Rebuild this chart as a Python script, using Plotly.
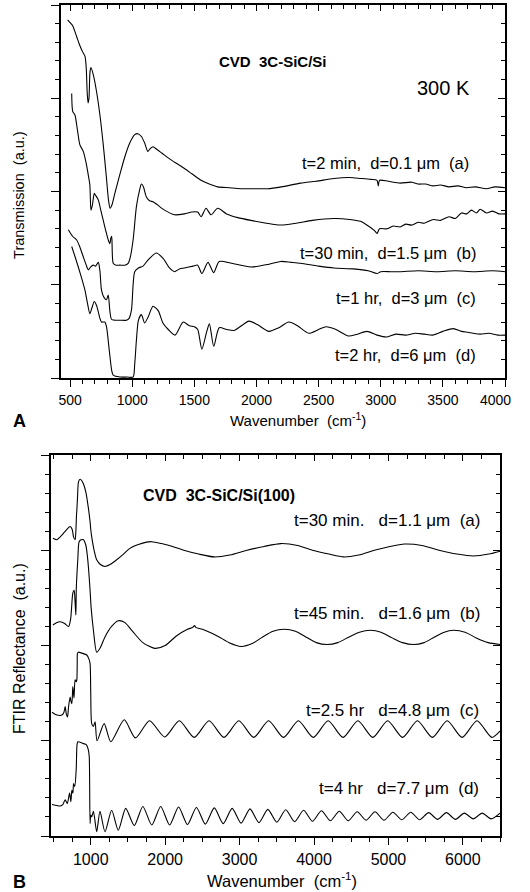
import plotly.graph_objects as go

W, H = 514, 892          # drawing width the page ends up using; reference pixels map 1:1
FONT = "Liberation Sans, Arial, sans-serif"
NB = "\u00a0"

# ---------------- Panel A : transmission (wavenumber, a.u.) ----------------
A_a = [(480,3.84),(500,3.81),(520,3.78),(553,3.66),(580,3.56),(600,3.50),(620,3.45),(630,3.32),(638,3.05),(645,2.95),
       (652,3.00),(660,3.28),(668,3.33),(687,3.25),(713,3.07),(740,2.82),(767,2.50),(793,2.14),(808,1.92),(822,1.82),
       (838,1.86),(860,1.98),(900,2.18),(940,2.37),(980,2.52),(1020,2.61),(1045,2.62),(1074,2.59),(1100,2.52),(1125,2.43),
       (1145,2.46),(1167,2.48),(1200,2.45),(1240,2.41),(1300,2.35),(1394,2.27),(1480,2.19),(1554,2.12),(1620,2.08),(1688,2.05),
       (1780,2.04),(1875,2.03),(1980,2.03),(2089,2.03),(2200,2.05),(2355,2.09),(2480,2.11),(2622,2.14),(2750,2.15),(2840,2.14),
       (2920,2.13),(2970,2.12),(2980,2.06),(2990,2.12),(3060,2.11),(3156,2.09),(3250,2.10),(3300,2.08),(3360,2.08),(3423,2.06),
       (3480,2.07),(3550,2.05),(3620,2.06),(3690,2.04),(3760,2.05),(3850,2.03),(3920,2.05),(4000,2.04)]
A_b = [(513,3.05),(521,2.86),(539,2.82),(560,2.65),(579,2.50),(606,2.43),(630,2.30),(646,2.18),(659,2.07),(668,1.80),
       (680,1.86),(695,1.98),(705,1.96),(727,1.91),(747,1.80),(767,1.69),(787,1.58),(807,1.48),(820,1.44),(828,1.50),
       (835,1.52),(847,1.23),(870,1.21),(900,1.21),(940,1.21),(967,1.23),(985,1.30),(1007,1.48),(1034,1.84),(1060,2.02),
       (1074,2.08),(1090,2.05),(1114,1.94),(1140,1.90),(1167,1.89),(1200,1.86),(1260,1.80),(1340,1.75),(1420,1.76),(1480,1.78),
       (1527,1.78),(1554,1.73),(1594,1.82),(1634,1.75),(1688,1.82),(1760,1.76),(1850,1.72),(1955,1.69),(2080,1.66),(2195,1.64),
       (2320,1.66),(2450,1.69),(2622,1.71),(2750,1.70),(2836,1.68),(2900,1.63),(2950,1.58),(2970,1.55),(2990,1.60),(3050,1.60),
       (3100,1.63),(3156,1.62),(3200,1.65),(3250,1.64),(3300,1.67),(3350,1.66),(3423,1.70),(3480,1.69),(3550,1.73),(3600,1.71),
       (3650,1.77),(3690,1.76),(3730,1.80),(3770,1.77),(3800,1.81),(3850,1.77),(3900,1.79),(3950,1.76),(4000,1.76)]
A_c = [(486,1.59),(520,1.52),(553,1.48),(580,1.40),(606,1.30),(630,1.21),(646,1.16),(665,1.19),(686,1.21),(705,1.20),
       (727,1.24),(740,1.15),(753,0.94),(775,0.86),(793,0.84),(807,0.89),(820,0.72),(833,0.63),(860,0.62),(900,0.62),
       (953,0.62),(975,0.64),(994,0.73),(1020,1.14),(1050,1.18),(1087,1.20),(1130,1.27),(1194,1.34),(1250,1.28),(1300,1.18),
       (1340,1.14),(1380,1.17),(1420,1.18),(1490,1.20),(1527,1.21),(1560,1.12),(1610,1.24),(1655,1.13),(1700,1.25),(1800,1.23),
       (1955,1.19),(2100,1.22),(2195,1.25),(2280,1.24),(2355,1.23),(2500,1.20),(2622,1.18),(2780,1.17),(2900,1.15),(2970,1.12),
       (3000,1.14),(3080,1.14),(3156,1.14),(3300,1.15),(3450,1.14),(3600,1.15),(3750,1.14),(3900,1.15),(4000,1.14)]
A_d = [(513,1.41),(540,1.30),(566,1.19),(595,1.06),(620,0.94),(640,0.80),(659,0.69),(675,0.75),(695,0.82),(712,0.78),
       (727,0.71),(740,0.64),(753,0.60),(780,0.60),(793,0.55),(815,0.30),(835,0.08),(847,0.03),(900,0.01),(960,0.01),
       (1007,0.01),(1020,0.15),(1034,0.41),(1050,0.62),(1074,0.68),(1100,0.59),(1130,0.66),(1167,0.77),(1210,0.72),(1247,0.59),
       (1290,0.52),(1345,0.46),(1410,0.60),(1460,0.56),(1500,0.55),(1527,0.52),(1560,0.31),(1600,0.50),(1621,0.58),(1656,0.34),
       (1700,0.54),(1760,0.52),(1821,0.51),(1940,0.61),(2010,0.57),(2100,0.50),(2180,0.54),(2260,0.60),(2330,0.56),(2420,0.48),
       (2500,0.52),(2560,0.55),(2640,0.52),(2740,0.45),(2810,0.47),(2889,0.50),(2970,0.46),(3049,0.44),(3120,0.47),(3200,0.46),
       (3280,0.48),(3350,0.47),(3420,0.46),(3500,0.50),(3583,0.53),(3650,0.50),(3700,0.49),(3743,0.48),(3800,0.47),(3870,0.48),
       (3940,0.46),(4000,0.46)]

# ---------------- Panel B : FTIR reflectance (wavenumber, a.u.) ----------------
B_a = [(492,3.125),(545,3.11),(590,3.14),(635,3.18),(680,3.22),(723,3.25),(750,3.22),(769,3.14),(790,3.11),(800,3.20),
       (808,3.36),(813,3.42),(822,3.55),(836,3.72),(858,3.745),(880,3.73),(905,3.69),(937,3.60),(965,3.46),(991,3.30),
       (1000,3.22),(1013,3.14),(1045,3.00),(1080,2.90),(1130,2.85),(1191,2.83),(1260,2.85),(1348,2.90),(1440,2.96),(1526,3.02),
       (1640,3.06),(1749,3.085),(1820,3.09),(1950,3.07),(2100,3.04),(2250,3.00),(2450,2.96),(2662,2.93),(2870,2.95),(3100,3.00),
       (3330,3.04),(3554,3.07),(3780,3.05),(3980,3.00),(4200,2.96),(4400,2.93),(4600,2.95),(4810,3.00),(5020,3.04),(5220,3.065),
       (5450,3.05),(5680,3.00),(5920,2.96),(6140,2.94),(6350,2.96),(6500,2.99)]
B_b = [(492,2.215),(540,2.24),(590,2.25),(650,2.23),(702,2.20),(730,2.28),(759,2.55),(777,2.58),(790,2.45),(800,2.32),
       (806,2.60),(826,2.90),(844,3.09),(870,3.11),(902,3.11),(935,3.05),(956,2.93),(975,2.76),(991,2.58),(1005,2.40),
       (1036,2.16),(1080,1.93),(1130,1.98),(1191,2.09),(1280,2.20),(1370,2.26),(1460,2.24),(1560,2.15),(1700,2.03),(1860,1.97),
       (2000,2.00),(2150,2.10),(2300,2.17),(2370,2.19),(2395,2.21),(2410,2.19),(2500,2.17),(2700,2.10),(2860,2.03),(3019,1.99),
       (3170,2.02),(3310,2.09),(3450,2.15),(3598,2.17),(3750,2.15),(3890,2.09),(4030,2.03),(4178,2.01),(4320,2.03),(4470,2.09),
       (4610,2.14),(4757,2.16),(4900,2.14),(5050,2.08),(5190,2.03),(5336,2.01),(5480,2.03),(5620,2.09),(5750,2.14),(5871,2.16),
       (6030,2.14),(6180,2.08),(6340,2.03),(6500,2.01)]
B_c = [(479,1.30),(545,1.27),(612,1.27),(640,1.30),(656,1.36),(672,1.28),(688,1.25),(702,1.36),(723,1.46),(735,1.41),
       (746,1.39),(759,1.57),(768,1.50),(775,1.45),(790,1.64),(805,1.62),(813,1.64),(818,1.80),(822,1.92),(835,1.93),
       (880,1.92),(947,1.90),(975,1.86),(991,1.81),(1000,1.50),(1013,1.18),(1036,1.15),(1058,1.20),(1085,1.00),(1180,1.18),
       (1270,0.99),(1450,1.22),(1600,1.03),(1790,1.21),(1993,1.04),(2190,1.21),(2390,1.035),(2590,1.21),(2790,1.035),(2990,1.21),
       (3190,1.035),(3390,1.21),(3590,1.035),(3790,1.21),(3990,1.035),(4190,1.21),(4390,1.035),(4590,1.21),(4790,1.035),(4990,1.21),
       (5190,1.035),(5390,1.21),(5590,1.035),(5790,1.21),(5990,1.035),(6190,1.21),(6390,1.035),(6500,1.10)]
B_d = [(480,0.33),(545,0.32),(590,0.315),(625,0.33),(656,0.38),(685,0.34),(715,0.45),(733,0.36),(746,0.48),(760,0.45),
       (769,0.55),(785,0.52),(804,0.69),(815,0.95),(826,0.99),(902,0.97),(940,0.96),(969,0.90),(980,0.83),(991,0.13),
       (1000,0.22),(1013,0.20),(1036,0.26),(1080,0.045),(1124,0.26),(1191,0.045),(1281,0.27),(1370,0.06),(1470,0.29),(1585,0.11),
       (1700,0.31),(1820,0.115),(1940,0.31),(2060,0.115),(2180,0.305),(2300,0.12),(2420,0.30),(2540,0.125),(2660,0.295),(2780,0.13),
       (2900,0.29),(3020,0.135),(3140,0.285),(3260,0.14),(3380,0.28),(3500,0.145),(3620,0.275),(3740,0.15),(3860,0.27),(3980,0.155),
       (4100,0.265),(4220,0.16),(4340,0.26),(4460,0.16),(4580,0.255),(4700,0.165),(4820,0.255),(4940,0.165),(5060,0.25),(5180,0.17),
       (5300,0.25),(5420,0.17),(5540,0.245),(5660,0.175),(5780,0.245),(5900,0.175),(6020,0.24),(6140,0.18),(6260,0.24),(6380,0.18),
       (6500,0.24)]

A_last_tick = "4000"   # right-most panel-A tick label, kept inside the page edge

A_labels = ["t=2 min,  d=0.1 μm  (a)", "t=30 min,  d=1.5 μm  (b)",
            "t=1 hr,  d=3 μm  (c)", "t=2 hr,  d=6 μm  (d)"]
B_labels = ["t=30 min.   d=1.1 μm  (a)", "t=45 min.   d=1.6 μm  (b)",
            "t=2.5 hr   d=4.8 μm  (c)", "t=4 hr   d=7.7 μm  (d)"]

fig = go.Figure()

def add(series, xa, ya):
    fig.add_trace(go.Scatter(
        x=[p[0] for p in series], y=[p[1] for p in series], mode="lines",
        xaxis=xa, yaxis=ya, hoverinfo="skip", showlegend=False,
        line=dict(color="black", width=1.1, shape="spline", smoothing=0.7)))

for s in (A_a, A_b, A_c, A_d):
    add(s, "x", "y")
for s in (B_a, B_b, B_c, B_d):
    add(s, "x2", "y2")

# empty traces so the mirrored (inside-tick) axes are drawn
for xa, ya in (("x3", "y"), ("x", "y3"), ("x4", "y2"), ("x2", "y4")):
    fig.add_trace(go.Scatter(x=[], y=[], xaxis=xa, yaxis=ya, showlegend=False, hoverinfo="skip"))

def dx(px):
    return px / W

def dy(py):
    return 1 - py / H

A_x_dom = [dx(59), dx(505)]
A_y_dom = [dy(378), dy(5)]
B_x_dom = [dx(49.5), dx(500)]
B_y_dom = [dy(836), dy(455)]
A_range = [425, 4000]
B_range = [470, 6500]

common = dict(showgrid=False, zeroline=False, tickcolor="black", tickwidth=1.4)

def xaxis_main(dom, rng, dtick, mdtick, size, anchor):
    return dict(common, domain=dom, range=rng, anchor=anchor, showline=True, linecolor="black",
                linewidth=2, mirror=True, ticks="outside", ticklen=7, tick0=0, dtick=dtick,
                tickfont=dict(family=FONT, size=size, color="black"), ticklabelstandoff=1,
                minor=dict(ticks="outside", ticklen=4, dtick=mdtick, tick0=0, tickcolor="black", tickwidth=1.2))

def yaxis_main(dom, anchor):
    return dict(common, domain=dom, range=[0, 4], anchor=anchor, showline=True, linecolor="black",
                linewidth=2, mirror=True, ticks="outside", ticklen=8, tick0=0, dtick=1,
                showticklabels=False,
                minor=dict(ticks="outside", ticklen=4, dtick=0.2, tick0=0, tickcolor="black", tickwidth=1.2))

def xaxis_top(over, anchor, rng, dtick, mdtick):
    return dict(common, overlaying=over, anchor=anchor, side="top", range=rng, showline=False,
                ticks="inside", ticklen=6, tick0=0, dtick=dtick, showticklabels=False,
                minor=dict(ticks="inside", ticklen=4, dtick=mdtick, tick0=0, tickcolor="black", tickwidth=1.2))

def yaxis_right(over, anchor):
    return dict(common, overlaying=over, anchor=anchor, side="right", range=[0, 4], showline=False,
                ticks="inside", ticklen=7, tick0=0, dtick=1, showticklabels=False,
                minor=dict(ticks="inside", ticklen=4, dtick=0.2, tick0=0, tickcolor="black", tickwidth=1.2))

anns = []

def ann(text, px, py, size, xanchor="center", angle=0):
    anns.append(dict(text=text, x=dx(px), y=dy(py), xref="paper", yref="paper",
                     xanchor=xanchor, yanchor="middle", showarrow=False, textangle=angle,
                     borderpad=0, font=dict(family=FONT, size=size, color="black")))

def nb(s):
    return s.replace("  ", NB + NB).replace(NB + " ", NB + NB)

# Panel A texts
ann("<b>" + nb("CVD  3C-SiC/Si") + "</b>", 272.5, 62, 15)
ann("300 K", 443.5, 88, 20)
for lab, xr, yc in zip(A_labels, (470, 477, 477, 477), (163, 253, 298, 355)):
    ann(nb(lab), xr, yc, 16.5, xanchor="right")
ann(nb("Transmission  (a.u.)"), 17, 195, 14.5, angle=-90)
ann(nb("Wavenumber  (cm<sup>-1</sup>)"), 297, 419, 15)
ann("<b>A</b>", 18, 421, 18)
ann(A_last_tick, 512, 400, 14, xanchor="right")

# Panel B texts
ann("<b>" + nb("CVD  3C-SiC/Si(100)") + "</b>", 217.5, 495, 16)
for lab, xr, yc in zip(B_labels, (482, 482, 480, 480), (520, 613, 710, 788)):
    ann(nb(lab), xr, yc, 17, xanchor="right")
ann(nb("FTIR Reflectance  (a.u.)"), 17, 648, 16, angle=-90)
ann(nb("Wavenumber  (cm<sup>-1</sup>)"), 281.5, 880, 16.5)
ann("<b>B</b>", 18, 882, 18)

fig.update_layout(
    width=W, height=H, autosize=False,
    margin=dict(l=0, r=0, t=0, b=0),
    paper_bgcolor="white", plot_bgcolor="white",
    xaxis=xaxis_main(A_x_dom, A_range, 500, 100, 14, "y"),
    yaxis=yaxis_main(A_y_dom, "x"),
    xaxis3=xaxis_top("x", "y", A_range, 500, 100),
    yaxis3=yaxis_right("y", "x"),
    xaxis2=xaxis_main(B_x_dom, B_range, 1000, 250, 16, "y2"),
    yaxis2=yaxis_main(B_y_dom, "x2"),
    xaxis4=xaxis_top("x2", "y2", B_range, 1000, 250),
    yaxis4=yaxis_right("y2", "x2"),
    annotations=anns,
)

post = ("document.body.style.margin='0';document.body.style.padding='0';"
        "document.body.style.overflow='hidden';document.documentElement.style.overflow='hidden';")

fig.write_html("out.html", config={"responsive": False, "displayModeBar": False},
               post_script=post)
